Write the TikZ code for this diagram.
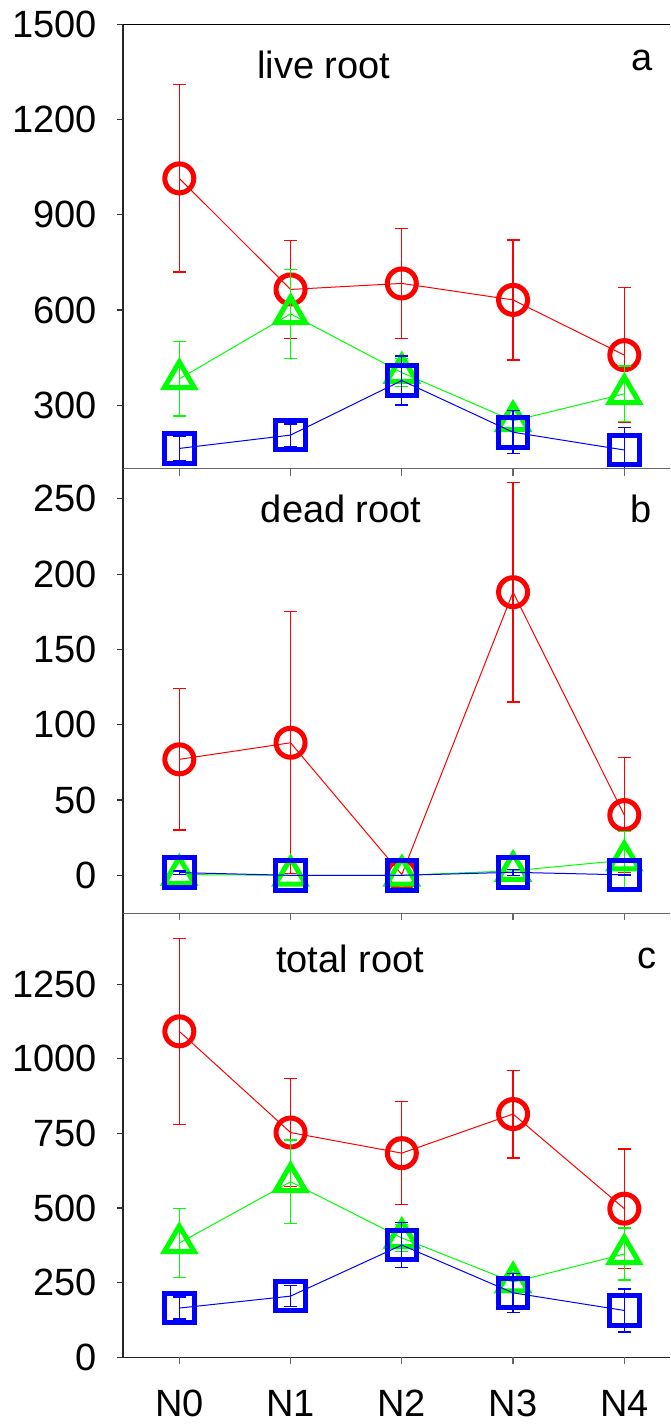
\documentclass[tikz,border=0pt]{standalone}
\usepackage{fontspec}
\setmainfont{Liberation Sans}
\newcommand\plotser[4]{%
  \foreach \v/\e [count=\i from 0] in {#4} {\coordinate (#1\i) at (\i,\v);}
  \draw[serline,#2] (#10) -- (#11) -- (#12) -- (#13) -- (#14);
  \foreach \v/\e [count=\i from 0] in {#4} {%
    \ifdim \e pt>0pt
      \draw[errbar,draw=#2] (\i,{\v-\e}) -- (\i,{\v+\e});
      \draw[errbar,draw=#2] (\i,{\v+\e}) ++(-6.5pt,0pt) -- ++(13pt,0pt);
      \draw[errbar,draw=#2] (\i,{\v-\e}) ++(-6.5pt,0pt) -- ++(13pt,0pt);
    \fi
    \path (#1\i) pic {#3};
  }%
}
\begin{document}
\begin{tikzpicture}[x=1pt,y=-1pt,
  lbl/.style={inner sep=0pt,font=\fontsize{38}{40}\selectfont},
  axisk/.style={line width=1.3pt,draw=black!85},
  sepline/.style={line width=1.3pt,draw=black!60},
  xtick/.style={line width=1.2pt,draw=black!60},
  ytick/.style={line width=1.2pt,draw=black!80},
  serline/.style={line width=1pt},
  errbar/.style={line width=1.3pt},
  circmk/.pic={\draw[red,line width=5pt] (0pt,0pt) circle[radius=14.5pt];},
  trimk/.pic={\draw[green,line width=5pt,line join=miter] (0pt,17pt) -- (15pt,-8.7pt) -- (-15pt,-8.7pt) -- cycle;},
  sqmk/.pic={\draw[blue,line width=5pt] (-14.8pt,-14.8pt) rectangle (14.8pt,14.8pt);}]
\fill[white] (0,0) rectangle (670,1425);
\useasboundingbox (0,0) rectangle (670,1425);

% ---------- panel a ----------
\begin{scope}
 \clip (123,24.5) rectangle (670,468.7);
 \begin{scope}[shift={(179.3,500.45)},x=111.25pt,y=0.3173pt]
  \plotser{ar}{red}{circmk}{1015/295,665/155,684/173,632/189,458/213}
  \plotser{ag}{green}{trimk}{383/117,588/140,403/44,251/30,336/88}
  \plotser{ab}{blue}{sqmk}{164/38,206/35,378/77,215/68,159/72}
 \end{scope}
\end{scope}

% ---------- panel b ----------
\begin{scope}
 \clip (123,468.7) rectangle (670,913.3);
 \begin{scope}[shift={(179.3,875.3)},x=111.25pt,y=1.506pt]
  \plotser{br}{red}{circmk}{77/47,88/87,0.5/0,188/73,40/38}
  \plotser{bg}{green}{trimk}{0.5/0,0/0,0/0,3/0,10/19}
  \plotser{bb}{blue}{sqmk}{1.8/1.1,0/0,0/0,2/2,0.3/0.3}
 \end{scope}
\end{scope}

% ---------- panel c ----------
\begin{scope}
 \clip (123,913.3) rectangle (670,1357.3);
 \begin{scope}[shift={(179.3,1357.3)},x=111.25pt,y=0.2985pt]
  \plotser{cr}{red}{circmk}{1092/312,753/180,684/172,815/147,498/200}
  \plotser{cg}{green}{trimk}{383/116,588/140,400/45,252/30,346/87}
  \plotser{cb}{blue}{sqmk}{165/37,205/35,376/76,216/65,157/72}
 \end{scope}
\end{scope}

% ---------- axes ----------
\draw[axisk] (123,24.5) -- (123,1357.3);
\draw[line width=1.3pt,black] (117,24.5) -- (670,24.5);
\draw[sepline] (123,468.7) -- (670,468.7);
\draw[sepline] (123,913.3) -- (670,913.3);
\draw[axisk] (117,1357.3) -- (670,1357.3);

\foreach \xx in {179.3,290.55,401.8,513.05,624.3} {
  \draw[xtick] (\xx,468.7) -- (\xx,475.5);
  \draw[xtick] (\xx,913.3) -- (\xx,920.1);
  \draw[xtick] (\xx,1357.3) -- (\xx,1364.1);
}

% y ticks and labels
\foreach \v in {1500,1200,900,600,300} {
  \draw[ytick] (117,{500.45-0.3173*\v}) -- (123,{500.45-0.3173*\v});
  \node[lbl,anchor=east] (ya\v) at (97,{500.45-0.3173*\v}) {\v};
}
\foreach \v in {250,200,150,100,50,0} {
  \draw[ytick] (117,{875.3-1.506*\v}) -- (123,{875.3-1.506*\v});
  \node[lbl,anchor=east] (yb\v) at (97,{875.3-1.506*\v}) {\v};
}
\foreach \v in {1250,1000,750,500,250,0} {
  \draw[ytick] (117,{1357.3-0.2985*\v}) -- (123,{1357.3-0.2985*\v});
  \node[lbl,anchor=east] (yc\v) at (97,{1357.3-0.2985*\v}) {\v};
}

% x labels
\foreach \xx/\t in {179.3/N0,290.55/N1,401.8/N2,513.05/N3,624.3/N4}
  \node[lbl,anchor=base] (x\t) at (\xx,1416.7) {\t};

% titles
\node[lbl,anchor=base west] (ta) at (257,78.3) {live root};
\node[lbl,anchor=base west] (tb) at (260.7,522.7) {dead root};
\node[lbl,anchor=base west] (tc) at (276,972.7) {total root};
\node[lbl,anchor=base] (la) at (642,70) {a};
\node[lbl,anchor=base] (lb) at (641,522.7) {b};
\node[lbl,anchor=base] (lc) at (646.7,968.3) {c};
\end{tikzpicture}
\end{document}
